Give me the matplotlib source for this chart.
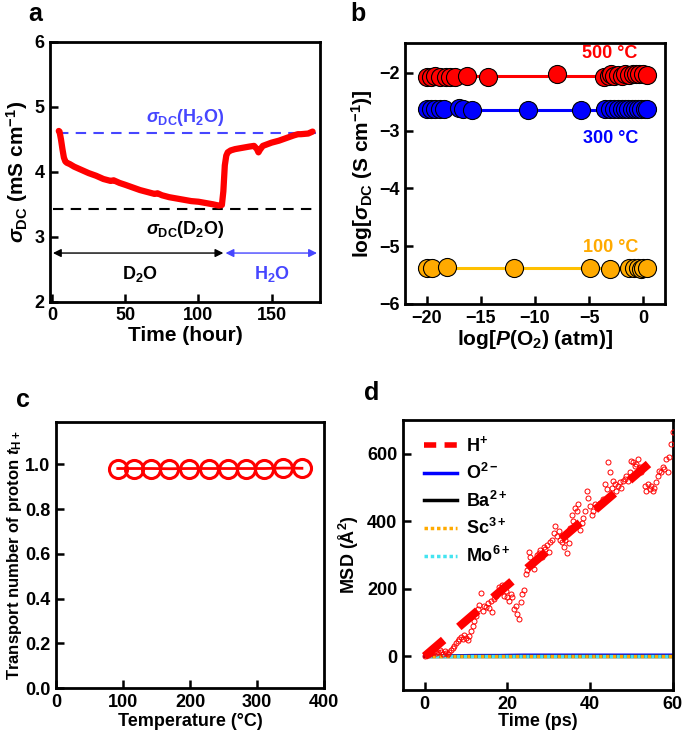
import numpy as np
import matplotlib
matplotlib.use("Agg")
import matplotlib.pyplot as plt
from matplotlib.lines import Line2D

plt.rcParams['font.family'] = ['Liberation Sans', 'DejaVu Sans']
plt.rcParams['font.weight'] = 'bold'
plt.rcParams['axes.labelweight'] = 'bold'
plt.rcParams['mathtext.fontset'] = 'custom'
plt.rcParams['mathtext.rm'] = 'Liberation Sans:bold'
plt.rcParams['mathtext.it'] = 'Liberation Sans:italic:bold'
plt.rcParams['mathtext.bf'] = 'Liberation Sans:bold'
plt.rcParams['axes.unicode_minus'] = True

# ---------------- Data ----------------
# (a) conductivity vs time
a_time = [4.5, 5, 6, 7, 8, 9, 10, 12, 15, 20, 25, 30, 35, 40, 42, 44, 46, 50, 55, 60,
          65, 70, 72, 75, 80, 85, 90, 95, 100, 105, 110, 114, 116, 117, 118, 119, 120,
          122, 125, 130, 135, 138, 140, 141, 142, 144, 150, 155, 160, 165, 168, 170, 175, 178]
a_sigma = [4.63, 4.62, 4.50, 4.35, 4.22, 4.16, 4.14, 4.12, 4.08, 4.03, 3.98, 3.94, 3.89, 3.86,
           3.87, 3.85, 3.83, 3.80, 3.76, 3.72, 3.69, 3.66, 3.67, 3.64, 3.61, 3.59, 3.57, 3.55,
           3.54, 3.52, 3.50, 3.48, 3.49, 3.70, 4.10, 4.25, 4.30, 4.33, 4.35, 4.37, 4.39, 4.40,
           4.35, 4.30, 4.34, 4.40, 4.45, 4.48, 4.52, 4.56, 4.58, 4.58, 4.59, 4.62]
a_sigma_h2o = 4.60
a_sigma_d2o = 3.43

# (b) log conductivity vs log pO2
b500_x = [-20, -19.6, -19.2, -18.8, -18.2, -17.8, -17.4, -16.3, -14.3, -8.0, -3.6, -3.2,
          -3.0, -2.7, -2.3, -2.0, -1.7, -1.3, -1.0, -0.7, -0.4, 0.0, 0.3]
b500_y = [-2.07, -2.07, -2.06, -2.07, -2.07, -2.07, -2.08, -2.06, -2.07, -2.03, -2.07, -2.05,
          -2.03, -2.05, -2.04, -2.05, -2.03, -2.04, -2.02, -2.03, -2.02, -2.03, -2.04]
b300_x = [-20, -19.6, -19.2, -18.8, -18.4, -17.0, -16.6, -15.8, -10.6, -5.8, -3.5, -3.1,
          -2.7, -2.3, -2.0, -1.7, -1.4, -1.1, -0.8, -0.5, -0.2, 0.1, 0.3]
b300_y = [-2.62, -2.63, -2.63, -2.62, -2.63, -2.61, -2.63, -2.65, -2.65, -2.65, -2.62, -2.62,
          -2.63, -2.62, -2.63, -2.62, -2.63, -2.62, -2.63, -2.62, -2.63, -2.62, -2.63]
b100_x = [-20, -19.5, -18.1, -11.9, -4.9, -3.1, -1.3, -0.9, -0.5, -0.2, 0.0, 0.3]
b100_y = [-5.37, -5.38, -5.36, -5.37, -5.37, -5.40, -5.38, -5.38, -5.38, -5.39, -5.38, -5.38]
b_fit = {'500': (-20, 0, -2.06), '300': (-20, 0, -2.64), '100': (-19.5, 0, -5.38)}

# (c) transport number
c_temp = [92, 116, 142, 169, 198, 228, 257, 284, 311, 339, 367]
c_t = [0.982, 0.982, 0.982, 0.981, 0.982, 0.982, 0.982, 0.982, 0.982, 0.984, 0.983]

# (d) MSD
d_time = np.round(np.arange(0, 60.01, 0.4), 1)
d_h_msd = [0, 3, 5, 8, 10, 12, 15, 10, 14, 18,
           12, 8, 15, 10, 6, 12, 18, 25, 30, 38,
           45, 52, 58, 50, 62, 55, 48, 60, 75, 90,
           105, 118, 140, 152, 188, 135, 150, 145, 158, 142,
           165, 130, 170, 178, 185, 205, 195, 210, 180, 192,
           175, 165, 185, 175, 140, 150, 125, 110, 160, 185,
           195, 245, 255, 310, 295, 270, 258, 285, 300, 305,
           315, 295, 325, 318, 330, 310, 340, 345, 365, 385,
           355, 370, 345, 340, 325, 345, 305, 335, 380, 420,
           400, 440, 430, 450, 375, 395, 410, 430, 490, 470,
           445, 420, 430, 450, 440, 445, 455, 450, 465, 510,
           495, 575, 545, 500, 520, 510, 490, 505, 515, 500,
           520, 525, 535, 520, 545, 580, 575, 565, 570, 585,
           560, 545, 560, 505, 490, 510, 495, 505, 490, 500,
           515, 535, 550, 545, 560, 555, 585, 545, 590, 630,
           665]
d_fit_t = [0, 57.5]
d_fit_msd = [0, 605]
d_ion_t = [0, 6, 12, 18, 24, 30, 36, 42, 48, 54, 60]
d_o_msd = [0, 1, 2, 2, 3, 3, 3, 3, 3, 3, 3]
d_ba_msd = [0, 0, 0, 0, 0, 0, 0, 0, 0, 0, 0]
d_sc_msd = [0, 0, 0, 0, 0, 0, 0, 0, 0, 0, 0]
d_mo_msd = [0, 0, 0, 0, 0, 0, 0, 0, 0, 0, 0]

RED = '#ff0000'
BLUE = '#0000ff'
LBLUE = '#4646ff'
ORANGE = '#ffaa00'
CYAN = '#44e4f0'

fig = plt.figure(figsize=(6.85, 7.36), dpi=100)
TICKFS = 13
LABFS_AB = 15
LABFS_CD = 13
TXTFS = 13


def style(ax):
    for s in ax.spines.values():
        s.set_linewidth(2)
    ax.tick_params(direction='in', width=1.8, length=6, labelsize=TICKFS, pad=4)
    for lab in ax.get_xticklabels() + ax.get_yticklabels():
        lab.set_fontweight('bold')


# ---------------- (a) ----------------
axa = fig.add_axes([0.073, 0.590, 0.394, 0.353])
axa.plot([4, 180], [a_sigma_h2o] * 2, color=LBLUE, lw=1.5, ls=(0, (5, 3.5)))
axa.plot([0.7, 180], [a_sigma_d2o] * 2, color='black', lw=1.5, ls=(0, (5, 3.5)))
axa.plot(a_time, a_sigma, color=RED, lw=4.5, solid_capstyle='round', solid_joinstyle='round')
axa.annotate('', xy=(0.5, 2.75), xytext=(117, 2.75),
             arrowprops=dict(arrowstyle='<|-|>', color='black', lw=1, mutation_scale=12,
                             shrinkA=0, shrinkB=0))
axa.annotate('', xy=(118.5, 2.75), xytext=(181, 2.75),
             arrowprops=dict(arrowstyle='<|-|>', color=LBLUE, lw=1, mutation_scale=12,
                             shrinkA=0, shrinkB=0))
axa.text(60, 2.42, r'D$_2$O', ha='center', va='center', fontsize=TXTFS, fontweight='bold')
axa.text(150, 2.42, r'H$_2$O', ha='center', va='center', fontsize=TXTFS, fontweight='bold',
         color=LBLUE)
axa.text(91, 4.83, r'$\sigma_{\mathrm{DC}}$(H$_2$O)', ha='center', va='center',
         fontsize=TXTFS, color=LBLUE)
axa.text(91, 3.12, r'$\sigma_{\mathrm{DC}}$(D$_2$O)', ha='center', va='center',
         fontsize=TXTFS, color='black')
axa.set_xlim(-1.5, 183)
axa.set_ylim(2, 6)
axa.set_xticks([0, 50, 100, 150])
axa.set_yticks([2, 3, 4, 5, 6])
axa.set_xlabel('Time (hour)', fontsize=LABFS_AB, labelpad=1)
axa.set_ylabel(r'$\sigma_{\mathrm{DC}}$ (mS cm$^{-1}$)', fontsize=LABFS_AB, labelpad=3)
style(axa)

# ---------------- (b) ----------------
axb = fig.add_axes([0.591, 0.587, 0.380, 0.355])
for key, xs, ys, col, lcol in [('500', b500_x, b500_y, RED, RED),
                               ('300', b300_x, b300_y, BLUE, BLUE),
                               ('100', b100_x, b100_y, ORANGE, '#ffc000')]:
    x0, x1, yv = b_fit[key]
    axb.plot([x0, x1], [yv, yv], color=lcol, lw=2.2, zorder=1)
    axb.plot(xs, ys, ls='none', marker='o', ms=13, mfc=col, mec='black', mew=0.8, zorder=2)
axb.text(-3.1, -1.67, '500 °C', color=RED, ha='center', va='center', fontsize=TXTFS)
axb.text(-3.0, -3.13, '300 °C', color=BLUE, ha='center', va='center', fontsize=TXTFS)
axb.text(-3.0, -5.03, '100 °C', color=ORANGE, ha='center', va='center', fontsize=TXTFS)
axb.set_xlim(-22, 2)
axb.set_ylim(-6, -1.48)
axb.set_xticks([-20, -15, -10, -5, 0])
axb.set_yticks([-6, -5, -4, -3, -2])
axb.set_xlabel(r'log[$P$(O$_2$) (atm)]', fontsize=LABFS_AB, labelpad=1)
axb.set_ylabel(r'log[$\sigma_{\mathrm{DC}}$ (S cm$^{-1}$)]', fontsize=LABFS_AB, labelpad=3)
style(axb)

# ---------------- (c) ----------------
axc = fig.add_axes([0.082, 0.0652, 0.391, 0.3614])
axc.plot(c_temp, c_t, color=RED, lw=2, marker='o', ms=13, mfc='none', mec=RED, mew=2.2)
axc.set_xlim(0, 400)
axc.set_ylim(0, 1.19)
axc.set_xticks([0, 100, 200, 300, 400])
axc.set_yticks([0.0, 0.2, 0.4, 0.6, 0.8, 1.0])
axc.set_yticklabels(['0.0', '0.2', '0.4', '0.6', '0.8', '1.0'])
axc.set_xlabel('Temperature (°C)', fontsize=LABFS_CD, labelpad=2)
axc.set_ylabel(r'Transport number of proton $t_{\mathrm{H+}}$', fontsize=12, labelpad=1)
style(axc)

# ---------------- (d) ----------------
axd = fig.add_axes([0.588, 0.0625, 0.394, 0.3668])
axd.plot(d_time, d_h_msd, ls='none', marker='o', ms=3.6, mfc='none', mec=RED, mew=0.7,
         zorder=3)
axd.plot(d_fit_t, d_fit_msd, color=RED, lw=6, ls=(0, (3.0, 2.4)), zorder=4)
axd.plot(d_ion_t, d_o_msd, color=BLUE, lw=2.5, zorder=2)
axd.plot(d_ion_t, d_ba_msd, color='black', lw=2.5, zorder=2)
axd.plot(d_ion_t, d_sc_msd, color=ORANGE, lw=2.5, ls=(0, (1, 1)), zorder=2)
axd.plot(d_ion_t, d_mo_msd, color=CYAN, lw=2.5, ls=(1, (1, 1)), zorder=2)
handles = [Line2D([], [], color=RED, lw=4, ls=(0, (2.2, 1.5))),
           Line2D([], [], color=BLUE, lw=2.5),
           Line2D([], [], color='black', lw=2.5),
           Line2D([], [], color=ORANGE, lw=2.5, ls=(0, (1, 0.8))),
           Line2D([], [], color=CYAN, lw=2.5, ls=(0, (1, 0.8)))]
labels = [r'H$^{+}$', r'O$^{2-}$', r'Ba$^{2+}$', r'Sc$^{3+}$', r'Mo$^{6+}$']
leg = axd.legend(handles, labels, loc='upper left', bbox_to_anchor=(0.03, 0.99), frameon=False,
                 fontsize=13, handlelength=1.85, labelspacing=0.42, handletextpad=0.5,
                 borderaxespad=0.3)
for t in leg.get_texts():
    t.set_fontweight('bold')
axd.set_xlim(-5.3, 60)
axd.set_ylim(-100, 700)
axd.set_xticks([0, 20, 40, 60])
axd.set_yticks([0, 200, 400, 600])
axd.set_xlabel('Time (ps)', fontsize=LABFS_CD, labelpad=0)
axd.set_ylabel(r'MSD ($\mathrm{\AA}^{2}$)', fontsize=LABFS_CD, labelpad=4)
style(axd)

# panel letters
fig.text(28 / 685, 1 - 14 / 736, 'a', fontsize=18, fontweight='bold', va='center', ha='left')
fig.text(350 / 685, 1 - 14 / 736, 'b', fontsize=18, fontweight='bold', va='center', ha='left')
fig.text(16 / 685, 1 - 400 / 736, 'c', fontsize=18, fontweight='bold', va='center', ha='left')
fig.text(364 / 685, 1 - 393 / 736, 'd', fontsize=18, fontweight='bold', va='center', ha='left')

fig.savefig('out.png', dpi=100)
